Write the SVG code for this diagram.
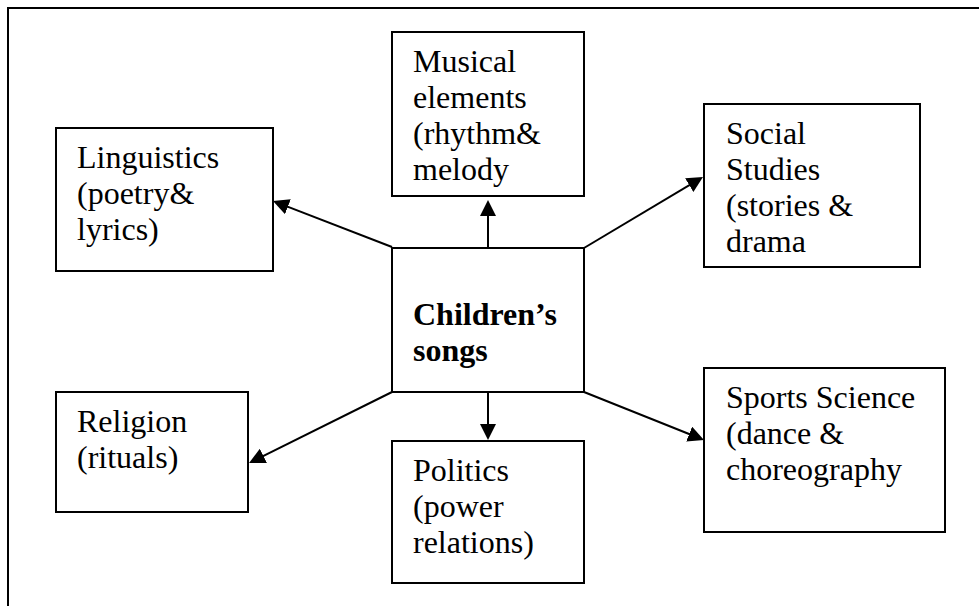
<svg xmlns="http://www.w3.org/2000/svg" width="979" height="606" viewBox="0 0 979 606">
  <style>
    .box { fill: #ffffff; stroke: #000000; stroke-width: 2; }
    .label { font-family: "Liberation Serif", "Times New Roman", serif; font-size: 32px; fill: #000000; }
    .bold { font-weight: bold; }
    .edge { stroke: #000000; stroke-width: 2; fill: none; marker-end: url(#head); }
  </style>
  <defs>
    <marker id="head" viewBox="0 0 16 16" refX="6" refY="8" markerWidth="16" markerHeight="16" markerUnits="userSpaceOnUse" orient="auto">
      <path d="M0,0 L16,8 L0,16 Z" fill="#000000"/>
    </marker>
  </defs>

  <rect width="979" height="606" fill="#ffffff"/>

  <!-- page frame: top and left rules -->
  <path d="M8,606 V8 H979" fill="none" stroke="#000000" stroke-width="2"/>

  <g id="connectors">
    <line class="edge" x1="392" y1="247" x2="282.3" y2="204.6"/>
    <line class="edge" x1="488" y1="248" x2="488" y2="210"/>
    <line class="edge" x1="584" y1="248" x2="694.4" y2="182.1"/>
    <line class="edge" x1="584" y1="392" x2="694.7" y2="436.3"/>
    <line class="edge" x1="392" y1="392" x2="258" y2="458.6"/>
    <line class="edge" x1="488" y1="392" x2="488" y2="430"/>
  </g>

  <g id="center">
    <rect class="box" x="392" y="248" width="192" height="144"/>
    <text class="label bold" x="413" y="325">Children’s</text>
    <text class="label bold" x="413" y="361">songs</text>
  </g>

  <g id="musical">
    <rect class="box" x="392" y="32" width="192" height="164"/>
    <text class="label" x="413" y="72">Musical</text>
    <text class="label" x="413" y="108">elements</text>
    <text class="label" x="413" y="144">(rhythm&amp;</text>
    <text class="label" x="413" y="180">melody</text>
  </g>

  <g id="linguistics">
    <rect class="box" x="56" y="128" width="217" height="143"/>
    <text class="label" x="77" y="168">Linguistics</text>
    <text class="label" x="77" y="204">(poetry&amp;</text>
    <text class="label" x="77" y="240">lyrics)</text>
  </g>

  <g id="social">
    <rect class="box" x="704" y="104" width="216" height="163"/>
    <text class="label" x="726" y="144">Social</text>
    <text class="label" x="726" y="180">Studies</text>
    <text class="label" x="726" y="216">(stories &amp;</text>
    <text class="label" x="726" y="252">drama</text>
  </g>

  <g id="religion">
    <rect class="box" x="56" y="392" width="192" height="120"/>
    <text class="label" x="77" y="432">Religion</text>
    <text class="label" x="77" y="468">(rituals)</text>
  </g>

  <g id="politics">
    <rect class="box" x="392" y="441" width="192" height="142"/>
    <text class="label" x="413" y="481">Politics</text>
    <text class="label" x="413" y="517">(power</text>
    <text class="label" x="413" y="553">relations)</text>
  </g>

  <g id="sports">
    <rect class="box" x="704" y="368" width="241" height="164"/>
    <text class="label" x="726" y="408">Sports Science</text>
    <text class="label" x="726" y="444">(dance &amp;</text>
    <text class="label" x="726" y="480">choreography</text>
  </g>
</svg>
